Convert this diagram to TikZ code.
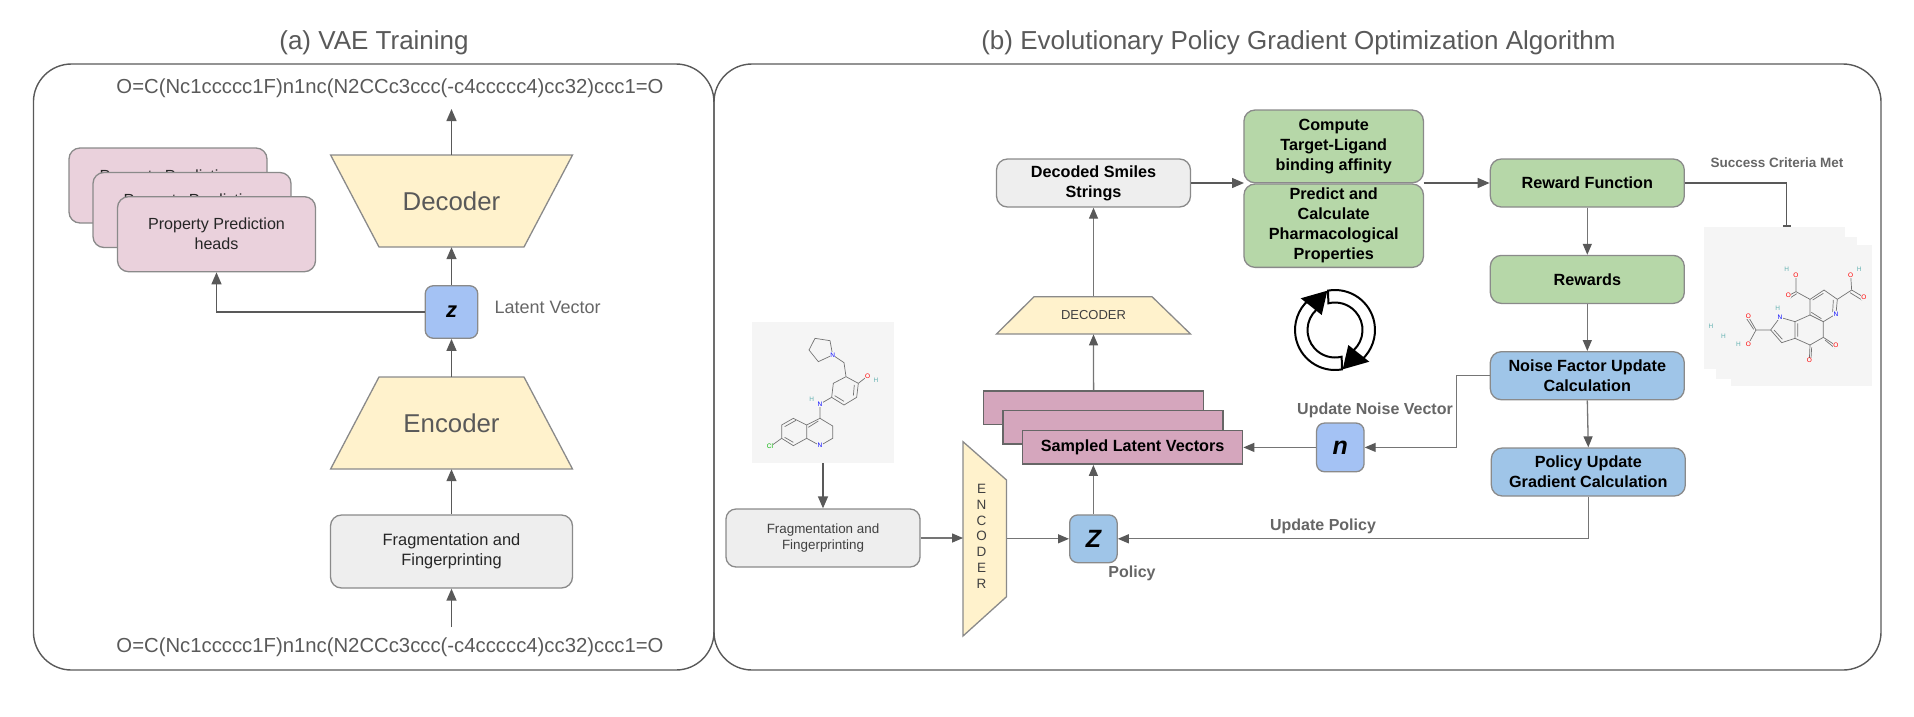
\documentclass[tikz,border=0pt]{standalone}
\usepackage{fontspec}
\setmainfont{Liberation Sans}
\usetikzlibrary{arrows.meta,positioning}
\definecolor{linegray}{HTML}{595959}
\definecolor{connb}{HTML}{757575}
\definecolor{labelgray}{HTML}{666666}
\definecolor{boxgray}{HTML}{EEEEEE}
\definecolor{boxedge}{HTML}{8A8A8A}
\definecolor{sand}{HTML}{FFF2CC}
\definecolor{headpink}{HTML}{EAD1DC}
\definecolor{vecpink}{HTML}{D5A6BD}
\definecolor{leaf}{HTML}{B6D7A8}
\definecolor{sky}{HTML}{9FC5E8}
\definecolor{zblue}{HTML}{A4C2F4}
\definecolor{molback}{HTML}{F5F5F5}
\tikzset
{
	panel/.style = {rectangle, draw=linegray, line width=1.4pt, rounded corners=38pt, inner sep=0pt},
	heading/.style = {text=linegray, font=\fontsize{26}{30}\selectfont, inner sep=0pt},
	smiles/.style = {text=linegray, font=\fontsize{20.3}{24}\selectfont, inner sep=0pt},
	roundbox/.style = {rectangle, rounded corners=11pt, draw=boxedge, line width=1.3pt, align=center, inner sep=0pt, text=black!85},
	fragbox/.style = {roundbox, fill=boxgray, font=\fontsize{16.4}{20}\selectfont},
	headbox/.style = {roundbox, fill=headpink, minimum width=198pt, minimum height=75pt, font=\fontsize{16.1}{20}\selectfont},
	stepbox/.style = {roundbox, text=black, minimum width=194pt, minimum height=48pt, font=\bfseries\fontsize{16.2}{20}\selectfont},
	trapface/.style = {draw=boxedge, fill=sand, line width=1.3pt},
	traptext/.style = {rectangle, inner sep=0pt, text=linegray},
	vecbox/.style = {rectangle, draw=labelgray, fill=vecpink, line width=1.5pt, minimum width=220pt, minimum height=33.5pt, inner sep=0pt},
	varbox/.style = {roundbox, rounded corners=8pt, text=black, font=\bfseries\itshape\fontsize{24}{24}\selectfont},
	note/.style = {text=labelgray, font=\bfseries\fontsize{16}{20}\selectfont, inner sep=0pt},
	molpage/.style = {rectangle, fill=molback, inner sep=0pt},
	conn/.style = {draw=linegray, line width=1.4pt, -{Triangle[length=12pt,width=10pt]}},
	connlight/.style = {draw=connb, line width=1.3pt, -{Triangle[length=11pt,width=9pt,color=linegray]}},
	bond/.style = {draw=black!55, line width=0.7pt},
	atom/.style = {fill=molback, inner sep=0.4pt, font=\fontsize{6.5}{7}\selectfont}
}

\begin{document}
\begin{tikzpicture}[x=1pt,y=-1pt]
\useasboundingbox (0,0) rectangle (1914,716);

% (a) VAE training
\node[heading] (titlea) at (374,42.5) {(a) VAE Training};
\node[panel, minimum width=680.5pt, minimum height=606pt] (panela) at (373.7,367) {};
\node[smiles] (smilestop) at (390,88.6) {O=C(Nc1ccccc1F)n1nc(N2CCc3ccc(-c4ccccc4)cc32)ccc1=O};
\node[smiles] (smilesbot) at (390,647) {O=C(Nc1ccccc1F)n1nc(N2CCc3ccc(-c4ccccc4)cc32)ccc1=O};
\coordinate (smilesin) at (451.5,627);
\coordinate (smilesout) at (451.5,109);
\node[fragbox, minimum width=242pt, minimum height=73pt] (fraga) at (451.5,551.5) {Fragmentation and\\Fingerprinting};
\path[trapface] (379,377) -- (524,377) -- (572.5,469) -- (330.6,469) -- cycle;
\node[traptext, minimum width=242pt, minimum height=92pt, font=\fontsize{25.8}{30}\selectfont] (enca) at (451.5,423) {Encoder};
\path[trapface] (330.6,155) -- (572.5,155) -- (524,247) -- (379,247) -- cycle;
\node[traptext, minimum width=242pt, minimum height=92pt, font=\fontsize{25.8}{30}\selectfont] (deca) at (451.5,201) {Decoder};
\node[varbox, fill=zblue, minimum size=52.5pt, font=\bfseries\itshape\fontsize{22}{22}\selectfont] (za) at (451.5,312) {z};
\node[text=labelgray, font=\fontsize{18}{20}\selectfont, inner sep=0pt, right=16pt of za.east, yshift=5pt] (latentlab) {Latent Vector};
\node[headbox] (heada1) at (168,185.5) {Property Prediction\\heads};
\node[headbox] (heada2) at (192,210) {Property Prediction\\heads};
\node[headbox] (heada3) at (216.5,234.2) {Property Prediction\\heads};
\draw[conn] (smilesin) -- (fraga.south);
\draw[conn] (fraga.north) -- (enca.south);
\draw[conn] (enca.north) -- (za.south);
\draw[conn] (za.north) -- (deca.south);
\draw[conn] (deca.north) -- (smilesout);
\draw[conn] (za.west) -| (heada3.south);

% (b) policy gradient loop
\node[heading] (titleb) at (1298.5,42.5) {(b) Evolutionary Policy Gradient Optimization Algorithm};
\node[panel, minimum width=1167pt, minimum height=606pt] (panelb) at (1297.5,367) {};

\node[molpage, minimum width=142pt, minimum height=140.5pt] (molin) at (823,392.7) {};
\begin{scope}[shift={(740,310)},x=0.3333pt,y=-0.3333pt]
	\draw[bond] (278,135) -- (270,92) -- (225,85) -- (207,120) -- (235,155) -- (278,135) -- (312,158) -- (318,200);
	\draw[bond] (318,200) -- (355,220) -- (350,262) -- (312,285) -- (275,262) -- (280,220) -- cycle;
	\draw[bond] (355,220) -- (383,198) (275,262) -- (240,282) -- (240,325);
	\draw[bond] (240,325) -- (278,348) -- (278,385) -- (240,407) -- (200,385) -- (200,345) -- cycle;
	\draw[bond] (200,345) -- (160,325) -- (125,345) -- (125,385) -- (160,407) -- (200,385);
	\draw[bond] (125,385) -- (90,410);
	\draw[bond] (343,225) -- (340,257) (312,274) -- (284,257) (168,331) -- (134,350) (134,382) -- (160,397) (205,352) -- (235,333);
	\foreach \ax/\ay/\at/\ac [count=\i] in {278/135/N/blue, 383/198/O/red, 408/210/H/teal!60, 240/282/N/blue, 215/268/H/teal!60, 240/407/N/blue, 90/410/Cl/green!70!black}
		\node[atom, text=\ac] (atoma\i) at (\ax,\ay) {\at};
\end{scope}

\node[fragbox, minimum width=194pt, minimum height=58pt, rounded corners=10pt, text=black!75, font=\fontsize{13.4}{16}\selectfont] (fragb) at (823,538) {Fragmentation and\\Fingerprinting};
\path[trapface] (963,441.7) -- (1006.5,480) -- (1006.5,596.7) -- (963,636) -- cycle;
\node[traptext, minimum width=43.5pt, minimum height=194pt] (encb) at (985,538.8) {};
\node[align=center, text=black!75, inner sep=0pt, font=\fontsize{13.5}{15.7}\selectfont] (enclab) at (981.5,536.3) {E\\N\\C\\O\\D\\E\\R};
\node[varbox, fill=sky, minimum width=47.5pt, minimum height=47.7pt, font=\bfseries\itshape\fontsize{25}{25}\selectfont] (zb) at (1093.4,538.8) {Z};
\node[note] (policylab) at (1132,573) {Policy};
\node[vecbox] (samp1) at (1093.6,407.7) {};
\node[vecbox] (samp2) at (1113,427) {};
\node[vecbox, font=\bfseries\fontsize{16.2}{20}\selectfont] (samp3) at (1132.6,447.4) {Sampled Latent Vectors};
\path[trapface] (1034,296.7) -- (1152,296.7) -- (1190.5,334) -- (996.5,334) -- cycle;
\node[traptext, minimum width=194pt, minimum height=37.5pt, text=black!75, font=\fontsize{13}{15}\selectfont] (decb) at (1093.5,315.4) {DECODER};
\node[stepbox, fill=boxgray] (decoded) at (1093.5,183) {Decoded Smiles\\Strings};
\node[stepbox, fill=leaf, minimum width=179.5pt, minimum height=72.7pt] (compute) at (1333.7,146.4) {Compute\\Target-Ligand\\binding affinity};
\node[stepbox, fill=leaf, minimum width=179.5pt, minimum height=83.3pt] (predict) at (1333.7,225.7) {Predict and\\Calculate\\Pharmacological\\Properties};
\coordinate (bindin) at (1244,183);
\coordinate (bindout) at (1423.5,183);
\node[stepbox, fill=leaf] (reward) at (1587.3,183) {Reward Function};
\node[stepbox, fill=leaf] (rewards) at (1587.3,279.4) {Rewards};
\node[stepbox, fill=sky] (noise) at (1587.3,375.7) {Noise Factor Update\\Calculation};
\node[stepbox, fill=sky] (polup) at (1588.3,472) {Policy Update\\Gradient Calculation};
\node[varbox, fill=zblue, minimum width=47.5pt, minimum height=48.7pt, font=\bfseries\itshape\fontsize{25}{25}\selectfont] (nb) at (1340.3,447.4) {n};
\node[note] (noiselab) at (1375,410) {Update Noise Vector};
\node[note] (updatelab) at (1323,526.7) {Update Policy};
\node[note, font=\bfseries\fontsize{13.5}{16}\selectfont] (successlab) at (1777,163) {Success Criteria Met};
\coordinate (noiseturn) at (1456.7,375.7);
\coordinate (successend) at (1786.6,226.7);

\node[molpage, minimum width=141pt, minimum height=142pt] (molout1) at (1774.5,298) {};
\node[molpage, minimum width=141pt, minimum height=142pt] (molout2) at (1786.5,308) {};
\node[molpage, minimum width=141pt, minimum height=141pt] (molout3) at (1801.3,315.5) {};
\begin{scope}[shift={(1700,240)},x=0.3333pt,y=-0.3333pt]
	\draw[bond] (330,178) -- (372,150) -- (412,178) -- (408,222) -- (370,245) -- (330,225) -- cycle;
	\draw[bond] (330,225) -- (285,245) -- (285,295) -- (330,315) -- (370,292) -- (370,245);
	\draw[bond] (285,245) -- (240,232) -- (212,270) -- (245,308) -- (285,295);
	\draw[bond] (212,270) -- (168,270) -- (145,230) (168,270) -- (145,312);
	\draw[bond] (330,178) -- (288,155) -- (265,167) (288,155) -- (288,105);
	\draw[bond] (412,178) -- (455,150) -- (492,172) (455,150) -- (452,105);
	\draw[bond] (370,292) -- (408,317) (330,315) -- (328,362);
	\draw[bond] (338,180) -- (370,160) (400,180) -- (398,216) (334,217) -- (364,236) (293,250) -- (293,290) (222,270) -- (247,298) (161,268) -- (140,236) (290,161) -- (270,174) (450,158) -- (486,180) (375,300) -- (404,324) (335,322) -- (333,355);
	\foreach \ax/\ay/\at/\ac [count=\i] in {408/222/N/blue, 240/232/N/blue, 233/205/H/teal!60, 145/230/O/red, 145/312/O/red, 115/312/H/teal!60, 265/167/O/red, 288/105/O/red, 260/88/H/teal!60, 492/172/O/red, 452/105/O/red, 478/88/H/teal!60, 408/317/O/red, 328/362/O/red, 33/258/H/teal!60, 70/288/H/teal!60}
		\node[atom, text=\ac] (atomb\i) at (\ax,\ay) {\at};
\end{scope}

\foreach \a in {0,180}
{
	\begin{scope}[shift={(1335,330)},y=1pt,rotate=\a]
		\draw[black, fill=white, line width=2pt] (100:40) arc[start angle=100, end angle=-48, radius=40] -- (-48:27.5) arc[start angle=-48, end angle=104, radius=27.5] -- cycle;
		\fill[black] (13.3,-15) -- (34.3,-31.7) -- (7.7,-39.3) -- cycle;
	\end{scope}
}

\draw[conn] (molin.south) -- (fragb.north);
\draw[connlight] (fragb.east) -- (encb.west |- fragb.east);
\draw[connlight] (encb.east |- zb.west) -- (zb.west);
\draw[connlight] (zb.north) -- (zb.north |- samp3.south);
\draw[connlight] (samp1.north) -- (decb.south);
\draw[connlight] (decb.north) -- (decoded.south);
\draw[conn] (decoded.east) -- (bindin);
\draw[conn] (bindout) -- (reward.west);
\draw[connlight] (reward.south) -- (rewards.north);
\draw[connlight] (rewards.south) -- (noise.north);
\draw[connlight] (noise.south) -- (polup.north);
\draw[connlight] (noise.west) -- (noiseturn) |- (nb.east);
\draw[connlight] (nb.west) -- (samp3.east);
\draw[connlight] (polup.south) |- (zb.east);
\draw[draw=linegray, line width=1.4pt, -{Bar[width=8pt]}] (reward.east) -| (successend);
\end{tikzpicture}
\end{document}
